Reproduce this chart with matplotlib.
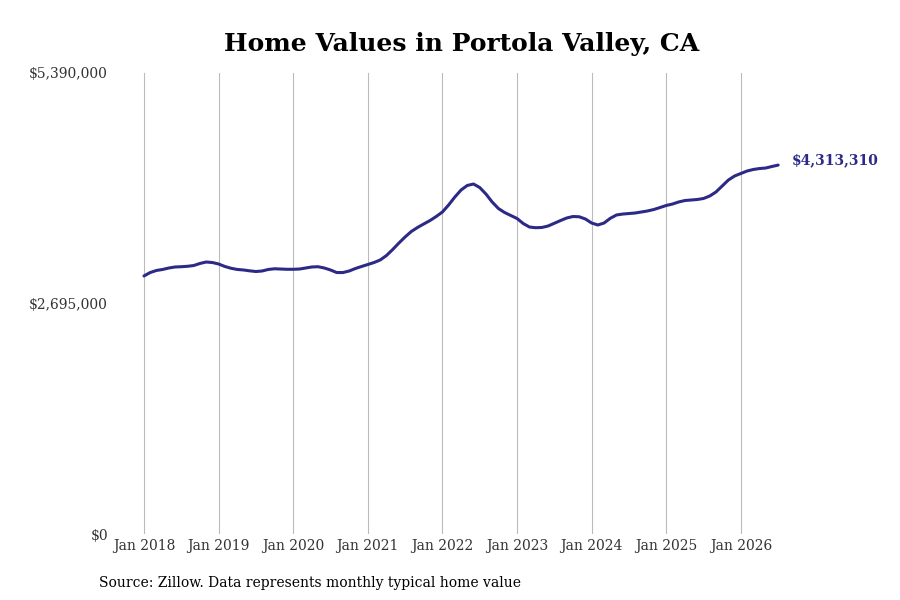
import numpy as np
import pandas as pd
import matplotlib
matplotlib.use("Agg")
import matplotlib.pyplot as plt

# Monthly typical home value, Jan 2018 .. Jul 2026
values = [
    # 2018
    3017000, 3057000, 3081000, 3093000, 3110000, 3122000, 3125000, 3130000, 3139000, 3163000, 3180000, 3174000,
    # 2019
    3157000, 3128000, 3107000, 3093000, 3087000, 3077000, 3069000, 3075000, 3093000, 3101000, 3098000, 3095000,
    # 2020
    3095000, 3098000, 3110000, 3122000, 3125000, 3110000, 3087000, 3057000, 3057000, 3075000, 3104000, 3128000,
    # 2021
    3151000, 3174000, 3204000, 3256000, 3326000, 3402000, 3473000, 3537000, 3584000, 3625000, 3665000, 3712000,
    # 2022
    3765000, 3847000, 3940000, 4022000, 4075000, 4092000, 4051000, 3975000, 3882000, 3806000, 3759000, 3724000,
    # 2023
    3689000, 3630000, 3589000, 3581000, 3584000, 3601000, 3633000, 3665000, 3695000, 3712000, 3709000, 3683000,
    # 2024
    3636000, 3613000, 3636000, 3691000, 3730000, 3741000, 3747000, 3753000, 3765000, 3777000, 3794000, 3817000,
    # 2025
    3841000, 3858000, 3882000, 3899000, 3905000, 3911000, 3923000, 3952000, 3999000, 4069000, 4139000, 4186000,
    # 2026
    4215000, 4244000, 4262000, 4273000, 4279000, 4297000, 4313310,
]
dates = pd.date_range("2018-01-01", periods=len(values), freq="MS")

tick_labels = ["Jan %d" % y for y in range(2018, 2027)]
y_ticks = [0, 2695000, 5390000]
y_labels = ["$0", "$2,695,000", "$5,390,000"]
last_label = "$4,313,310"

line_color = "#2d2a87"

plt.rcParams["font.family"] = "DejaVu Serif"

fig = plt.figure(figsize=(9, 6), dpi=100)
ax = fig.add_axes([115 / 900, 66 / 600, 670 / 900, 461 / 600])

months = np.arange(len(values))
ax.plot(months, values, color=line_color, linewidth=2.2, solid_capstyle="round")

ax.annotate(last_label, xy=(months[-1], values[-1]), xytext=(14, 5),
            textcoords="offset pixels", va="center", ha="left",
            fontsize=10, fontweight="bold", color=line_color,
            annotation_clip=False)

ax.set_xlim(-4.66, 103.1)
ax.set_ylim(0, 5390000)

ax.set_xticks(np.arange(0, 12 * len(tick_labels), 12))
ax.set_xticklabels(tick_labels)
ax.set_yticks(y_ticks)
ax.set_yticklabels(y_labels)
ax.tick_params(axis="both", length=0, labelsize=10, labelcolor="#333333")
ax.tick_params(axis="x", pad=3.5)
ax.tick_params(axis="y", pad=5)

ax.grid(axis="x", color="#bbbbbb", linewidth=0.8)
ax.set_axisbelow(True)
for s in ax.spines.values():
    s.set_visible(False)

fig.text(0.513, 0.927, "Home Values in Portola Valley, CA", ha="center", va="center",
         fontsize=18, fontweight="bold")
fig.text(0.11, 0.028, "Source: Zillow. Data represents monthly typical home value",
         ha="left", va="center", fontsize=10)

fig.savefig("out.png", dpi=100)
